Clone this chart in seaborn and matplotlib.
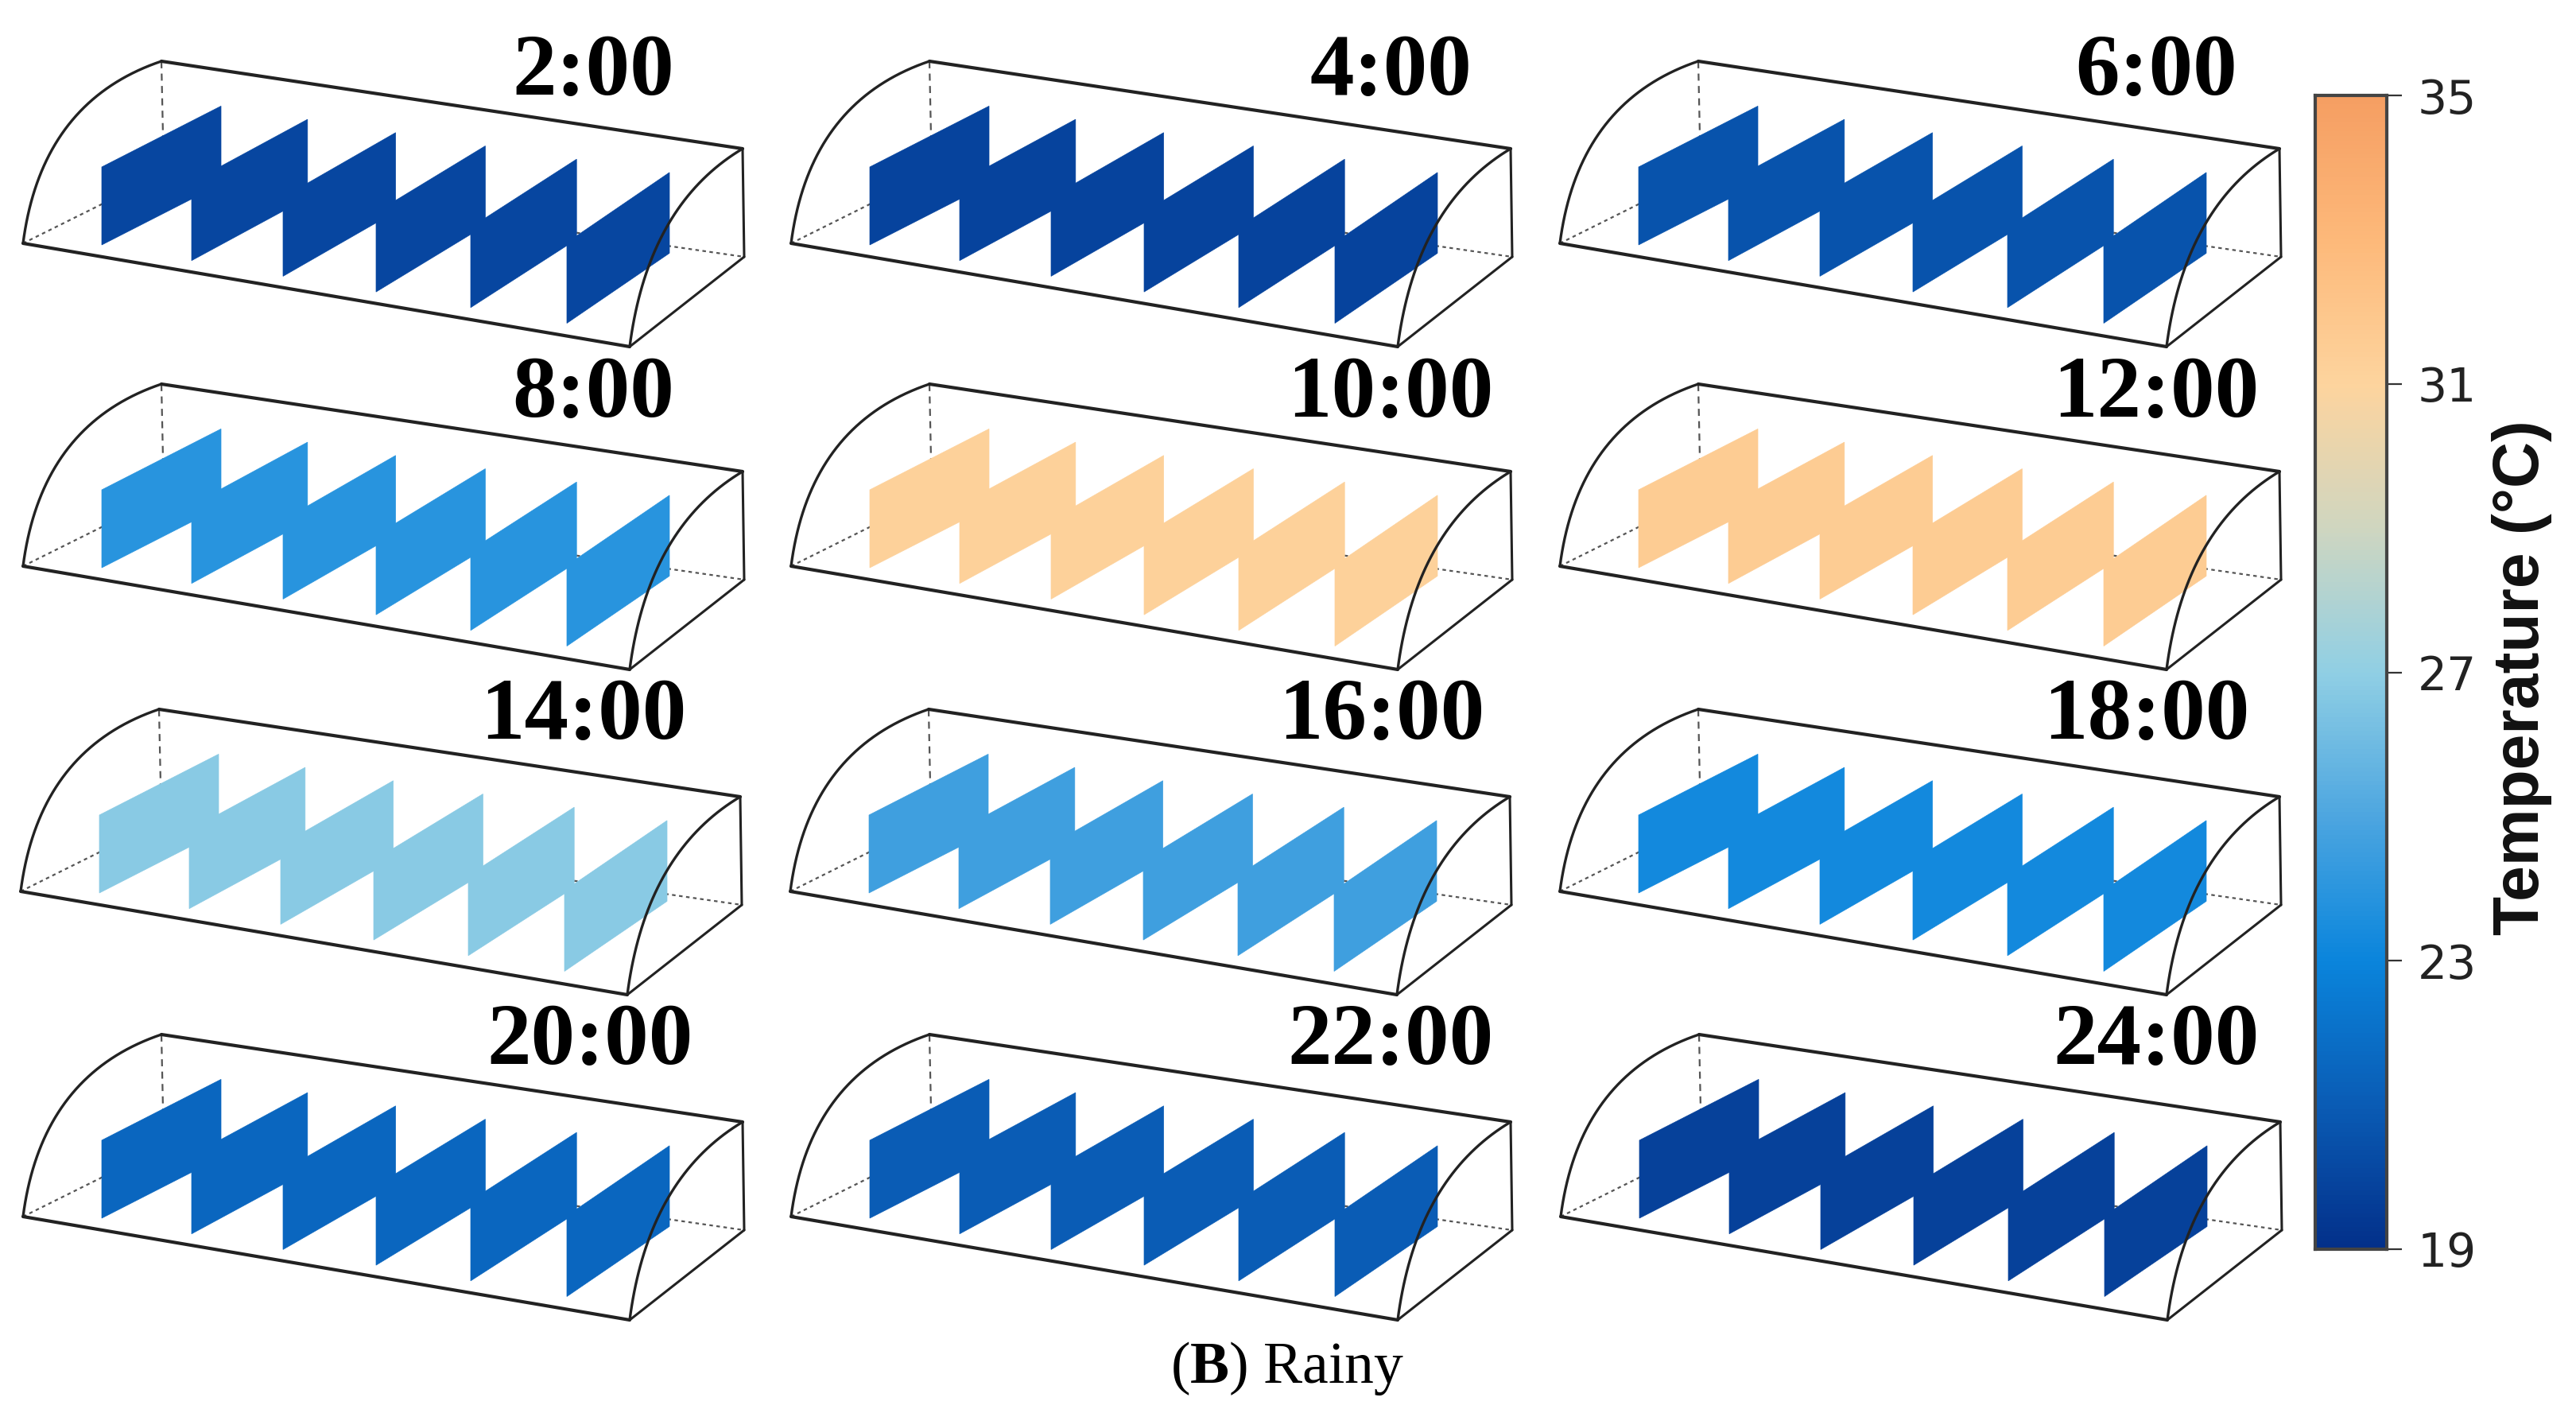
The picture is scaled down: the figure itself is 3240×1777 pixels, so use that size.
import numpy as np
import matplotlib
matplotlib.use("Agg")
import matplotlib.pyplot as plt
import seaborn as sns

sns.set_theme(style="white")
plt.rcParams["font.family"] = ["Liberation Serif", "DejaVu Serif"]
plt.rcParams["mathtext.fontset"] = "custom"
plt.rcParams["mathtext.rm"] = "Liberation Serif"
plt.rcParams["mathtext.bf"] = "Liberation Serif:bold"

# values
hours = ["2:00", "4:00", "6:00", "8:00", "10:00", "12:00",
         "14:00", "16:00", "18:00", "20:00", "22:00", "24:00"]
temps = [20.0, 19.9, 20.6, 23.9, 31.2, 31.6, 26.8, 24.6, 23.3, 21.5, 21.0, 19.8]
cbar_ticks = [19, 23, 27, 31, 35]

cmap_temps = [19, 21, 23, 25, 27, 29, 31, 33, 35]
cmap_colors = ["#03308a", "#0a5cb5", "#0a85dc", "#4da6e0", "#90cfe4",
               "#cfd6c0", "#fdd49e", "#fdb97a", "#f59e62"]
T_MIN, T_MAX = 19, 35

cmap = sns.blend_palette(cmap_colors, n_colors=256, as_cmap=True)
norm = plt.Normalize(T_MIN, T_MAX)

# panel layout, pixels
col_x = [[0, 966, 1933], [0, 966, 1933], [-3, 965, 1933], [0, 966, 1934]]
row_y = [0, 406, 815, 1224]
label_x = [[746, 1749, 2712], [746, 1749, 2712], [734, 1738, 2700], [742, 1749, 2712]]
label_y = [92, 497, 902, 1311]

A, B = np.array([29, 306]), np.array([792, 436])
T, R = np.array([203, 77]), np.array([934, 187])
H, Q = np.array([206, 218]), np.array([936, 323])
BULGE = np.array([23, -178])
LINE = "#222222"


def arc(p0, p1):
    s = np.linspace(0, 1, 40)[:, None]
    c = p0 + BULGE
    return (1 - s) ** 2 * p0 + 2 * s * (1 - s) * c + s ** 2 * p1


fig = plt.figure(figsize=(32.41, 17.77), dpi=100, facecolor="white")
ax = fig.add_axes([0, 0, 1, 1])
ax.set_xlim(0, 3241)
ax.set_ylim(1777, 0)
ax.axis("off")

for n, (hour, temp) in enumerate(zip(hours, temps)):
    r, c = divmod(n, 3)
    off = np.array([col_x[r][c], row_y[r]])

    # hidden edges first, the sheets cover them
    for p0, p1, ls in [(T, H, (0, (4, 3))), (A, H, (0, (2, 2))), (H, Q, (0, (2, 2)))]:
        ax.plot(*np.c_[p0 + off, p1 + off], color="#555555", lw=1.6, ls=ls, zorder=1)

    col = cmap(norm(temp))
    for i in range(6):
        xl = 128 + 112 * i + i * i
        w = 150 - 4.2 * i
        yb = 308 + i * 19.7
        rise = 76.6 + 2.3 * i
        h = 98 + 0.7 * i
        pts = np.array([[xl, yb], [xl, yb - h], [xl + w, yb - h - rise], [xl + w, yb - rise]]) + off
        ax.fill(pts[:, 0], pts[:, 1], color=col, lw=0.5, zorder=2)

    for p0, p1 in [(T, R), (A, B)]:
        ax.plot(*np.c_[p0 + off, p1 + off], color=LINE, lw=3.0, zorder=3)
    for p0, p1 in [(R, Q), (Q, B)]:
        ax.plot(*np.c_[p0 + off, p1 + off], color=LINE, lw=2.2, zorder=3)
    for p0, p1 in [(A, T), (B, R)]:
        curve = arc(p0, p1) + off
        ax.plot(curve[:, 0], curve[:, 1], color=LINE, lw=2.4, zorder=3)

    ax.text(label_x[r][c], label_y[r], hour, ha="center", va="center",
            fontsize=80, fontweight="bold", color="black", zorder=4)

ax.text(1619, 1721, r"($\mathbf{B}$) Rainy", ha="center", va="center",
        fontsize=53, color="black")

# colour bar
cax = fig.add_axes([2912 / 3241, 1 - 1571 / 1777, 90 / 3241, 1451 / 1777])
grad = np.linspace(T_MAX, T_MIN, 256)[:, None]
sns.heatmap(grad, cmap=cmap, vmin=T_MIN, vmax=T_MAX, cbar=False, ax=cax,
            xticklabels=False, yticklabels=False)
cax.yaxis.tick_right()
cax.set_yticks([(T_MAX - t) / (T_MAX - T_MIN) * 256 for t in cbar_ticks])
cax.set_yticklabels(cbar_ticks, family="DejaVu Sans", fontsize=42, color="#222222", rotation=0)
cax.tick_params(axis="y", which="major", right=True, length=14, width=1.6, color="#333333", pad=14)
for s in cax.spines.values():
    s.set_visible(True)
    s.set_color("#444444")
    s.set_linewidth(3)

ax.text(3172, 852, "Temperature (°C)", rotation=90, ha="center", va="center",
        family="Liberation Sans", fontsize=58, fontweight="bold", color="#111111")

fig.savefig("out.png", dpi=100)
